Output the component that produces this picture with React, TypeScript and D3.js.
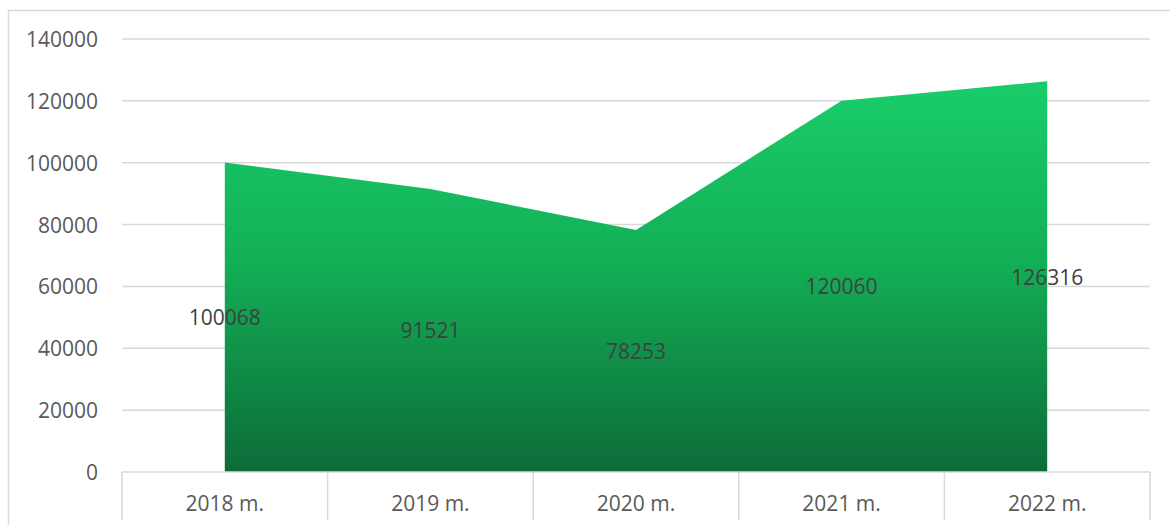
import React from "react";
import * as d3 from "d3";

const categories = ["2018 m.", "2019 m.", "2020 m.", "2021 m.", "2022 m."];
const values = [100068, 91521, 78253, 120060, 126316];
const yTicks = [0, 20000, 40000, 60000, 80000, 100000, 120000, 140000];

const W = 1170;
const H = 525;
const left = 122;
const right = 1150;
const top = 39;
const bottom = 472;

export default function App() {
  const x = d3.scaleBand<string>().domain(categories).range([left, right]).padding(0);
  const y = d3.scaleLinear().domain([0, 140000]).range([bottom, top]);
  const cx = (c: string) => (x(c) as number) + x.bandwidth() / 2;
  const data = categories.map((c, i) => ({ c, v: values[i] }));
  const area = d3
    .area<{ c: string; v: number }>()
    .x((d) => cx(d.c))
    .y0(y(0))
    .y1((d) => y(d.v));
  const font = "'Open Sans', 'Liberation Sans', sans-serif";
  const bounds = [left, ...categories.map((c) => (x(c) as number) + x.bandwidth())];
  const maxY = y(d3.max(values) as number);

  return (
    <svg
      width={W}
      height={H}
      style={{ position: "absolute", left: 0, top: 0, background: "#fff" }}
    >
      <defs>
        <linearGradient id="g" x1="0" y1={maxY} x2="0" y2={bottom} gradientUnits="userSpaceOnUse">
          <stop offset="0" stopColor="#19CD6A" />
          <stop offset="0.45" stopColor="#14B057" />
          <stop offset="1" stopColor="#0C6C38" />
        </linearGradient>
      </defs>
      <rect x={8.5} y={10.5} width={1300} height={700} fill="#fff" stroke="#D9D9D9" strokeWidth={1.5} />
      {yTicks.slice(1).map((t) => (
        <line key={t} x1={left} x2={right} y1={y(t)} y2={y(t)} stroke="#D9D9D9" strokeWidth={1.5} />
      ))}
      {yTicks.map((t) => (
        <text
          key={"l" + t}
          x={98}
          y={y(t)}
          textAnchor="end"
          dominantBaseline="central"
          fontFamily={font}
          fontSize={21}
          fill="#595959"
        >
          {t}
        </text>
      ))}
      <path d={area(data) as string} fill="url(#g)" />
      <line x1={left} x2={right} y1={bottom} y2={bottom} stroke="#D9D9D9" strokeWidth={1.5} />
      {bounds.map((b, i) => (
        <line key={"t" + i} x1={b} x2={b} y1={bottom} y2={520} stroke="#D9D9D9" strokeWidth={1.5} />
      ))}
      {categories.map((c) => (
        <text
          key={"c" + c}
          x={cx(c)}
          y={503}
          textAnchor="middle"
          dominantBaseline="central"
          fontFamily={font}
          fontSize={21}
          fill="#595959"
        >
          {c}
        </text>
      ))}
      {data.map((d) => (
        <text
          key={"v" + d.c}
          x={cx(d.c)}
          y={y(d.v / 2)}
          textAnchor="middle"
          dominantBaseline="central"
          fontFamily={font}
          fontSize={21}
          fill="#404040"
        >
          {d.v}
        </text>
      ))}
    </svg>
  );
}
